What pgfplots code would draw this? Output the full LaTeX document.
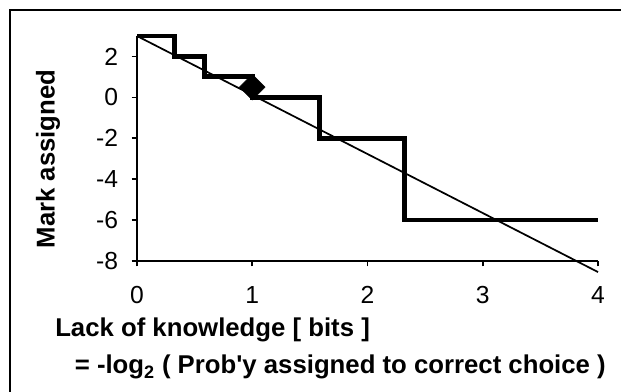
\documentclass[border=0pt]{standalone}
\usepackage{fontspec}
\setmainfont{Liberation Sans}
\usepackage{pgfplots}
\pgfplotsset{compat=1.18}
\begin{document}
\begin{tikzpicture}[x=0.75pt,y=0.75pt]
\useasboundingbox (0,0) rectangle (621,392);
\draw[line width=1.5pt] (10,-20) -- (10,382) -- (650,382);
\begin{axis}[
  at={(102.75pt,98.25pt)}, anchor=south west,
  scale only axis, width=345.75pt, height=168.75pt,
  xmin=0, xmax=4, ymin=-8, ymax=3,
  axis x line=bottom, axis y line=left,
  axis line style={-, line width=1.5pt},
  xtick={0,1,2,3,4}, ytick={-8,-6,-4,-2,0,2},
  tick align=outside, major tick length=4pt,
  tick style={line width=1.2pt, black},
  /pgf/number format/assume math mode=true,
  ticklabel style={font=\fontsize{18.5}{22}\selectfont, inner sep=0pt},
  xticklabel style={anchor=north, yshift=-15pt},
  yticklabel style={anchor=east, xshift=-10pt},
  clip=false,
]
\addplot[const plot, line width=3.6pt, line join=miter, black] coordinates {(0,3)(0.322,2)(0.585,1)(1,0)(1.585,-2)(2.322,-6)(4,-6)};
\addplot[line width=1.3pt, black] coordinates {(0,3)(4,-8.54)};
\addplot[only marks, mark=square*, mark size=6.8pt, mark options={rotate=45, fill=black, draw=black}] coordinates {(1,0.5)};
\end{axis}
\node[rotate=90, font=\bfseries\fontsize{19.3}{23}\selectfont] at (48,233) {Mark assigned};
\node[anchor=base west, inner sep=0pt, font=\bfseries\fontsize{19.3}{23}\selectfont] at (55,55) {Lack of knowledge [ bits ]};
\node[anchor=base east, inner sep=0pt, font=\bfseries\fontsize{19.3}{23}\selectfont] at (606,18) {= -log\textsubscript{2} ( Prob\textquotesingle y assigned to correct choice )};
\end{tikzpicture}
\end{document}
